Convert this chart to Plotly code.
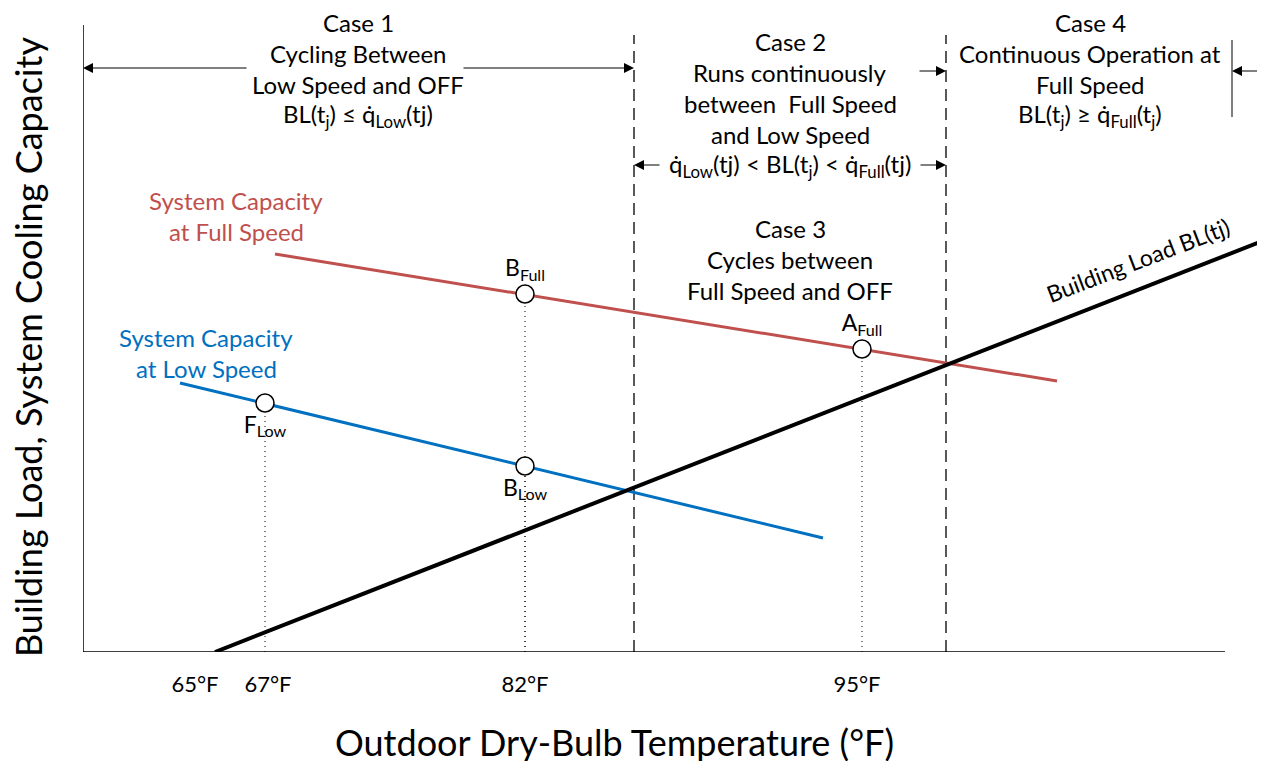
import plotly.graph_objects as go

FONT = "Lato, 'Open Sans', sans-serif"
RED = "#C0504D"
BLUE = "#0070C0"

# schematic axes (no real scale): left axis at x=0, bottom axis at y=0
temp_labels = ["65°F", "67°F", "82°F", "95°F"]
temp_label_pos = [11.2, 18.5, 44.2, 77.4]

full_x = [19.2, 97.4]
full_y = [39.8, 27.1]
low_x = [9.7, 74.0]
low_y = [26.9, 11.4]
load_x = [13.2, 118.2]
load_y = [0.0, 41.2]

point_names = ["B<sub>Full</sub>", "A<sub>Full</sub>", "F<sub>Low</sub>", "B<sub>Low</sub>"]
point_x = [44.2, 77.9, 18.2, 44.2]
point_y = [35.8, 30.3, 24.9, 18.6]
point_textpos = ["top center", "top center", "bottom center", "bottom center"]

case_bounds = [55.1, 86.3]
case_top = 61.7

case1_lines = ["Case 1", "Cycling Between", "Low Speed and OFF",
               "BL(t<sub>j</sub>) ≤ q\u0307<sub>Low</sub>(tj)"]
case2_lines = ["Case 2", "Runs continuously", "between  Full Speed", "and Low Speed",
               "q\u0307<sub>Low</sub>(tj) < BL(t<sub>j</sub>) < q\u0307<sub>Full</sub>(tj)"]
case3_lines = ["Case 3", "Cycles between", "Full Speed and OFF"]
case4_lines = ["Case 4", "Continuous Operation at", "Full Speed",
               "BL(t<sub>j</sub>) ≥ q\u0307<sub>Full</sub>(t<sub>j</sub>)"]

fig = go.Figure()

# dotted drop lines from the rating points
drop_x, drop_y = [], []
for px, py in zip(point_x, point_y):
    drop_x += [px, px, None]
    drop_y += [0, py, None]
fig.add_trace(go.Scatter(x=drop_x, y=drop_y, mode="lines",
                         line=dict(color="black", width=1, dash="1px,4px"),
                         showlegend=False, hoverinfo="skip"))

# case boundaries
for xb in case_bounds:
    fig.add_trace(go.Scatter(x=[xb, xb], y=[0, case_top], mode="lines",
                             line=dict(color="black", width=1.3, dash="12px,7px"),
                             showlegend=False, hoverinfo="skip"))

fig.add_trace(go.Scatter(x=full_x, y=full_y, mode="lines",
                         line=dict(color=RED, width=3), showlegend=False))
fig.add_trace(go.Scatter(x=low_x, y=low_y, mode="lines",
                         line=dict(color=BLUE, width=3), showlegend=False))
fig.add_trace(go.Scatter(x=load_x, y=load_y, mode="lines",
                         line=dict(color="black", width=4), showlegend=False))

fig.add_trace(go.Scatter(
    x=point_x, y=point_y, mode="markers+text",
    text=point_names, textposition=point_textpos,
    textfont=dict(family=FONT, size=23, color="black"),
    marker=dict(size=18, color="white", line=dict(color="black", width=1.5)),
    showlegend=False, cliponaxis=False))

# axis lines
fig.add_shape(type="line", x0=0, x1=0, y0=0, y1=62.7,
              line=dict(color="black", width=1.5))
fig.add_shape(type="line", x0=0, x1=114.2, y0=0, y1=0,
              line=dict(color="black", width=1.5))
# right limit of case 4
fig.add_shape(type="line", x0=114.9, x1=114.9, y0=53.5, y1=61.2,
              line=dict(color="black", width=1))


def text_block(lines, xc, y0, step=3.1, size=24, color="black"):
    for i, t in enumerate(lines):
        fig.add_annotation(x=xc, y=y0 - i * step, text=t, showarrow=False,
                           font=dict(family=FONT, size=size, color=color))


def arrow(tail, head, y):
    fig.add_annotation(x=head, y=y, ax=tail, ay=y, axref="x", ayref="y",
                       text="", showarrow=True, arrowhead=2, arrowsize=2,
                       arrowwidth=1, arrowcolor="black", standoff=0)


text_block(case1_lines, 27.5, 63.0)
text_block(case2_lines, 70.7, 61.1)
text_block(case3_lines, 70.7, 42.4)
text_block(case4_lines, 100.7, 63.0)
text_block(["System Capacity", "at Full Speed"], 15.3, 45.2, color=RED)
text_block(["System Capacity", "at Low Speed"], 12.3, 31.5, color=BLUE)

arrow(16.5, 0, 58.4)
arrow(37.9, case_bounds[0], 58.4)
arrow(83.5, case_bounds[1], 58.1)
arrow(117.6, 114.9, 58.1)
arrow(57.8, case_bounds[0], 48.7)
arrow(83.6, case_bounds[1], 48.7)

fig.add_annotation(x=105.5, y=39.2, text="Building Load BL(tj)", showarrow=False,
                   textangle=-21, font=dict(family=FONT, size=23, color="black"))

fig.add_annotation(xref="paper", yref="paper", x=0.4496, y=-0.1398,
                   xanchor="center", yanchor="middle",
                   text="Outdoor Dry-Bulb Temperature (°F)", showarrow=False,
                   font=dict(family=FONT, size=36, color="black"))
fig.add_annotation(xref="paper", yref="paper", x=-0.0465, y=0.4736,
                   xanchor="center", yanchor="middle",
                   text="Building Load, System Cooling Capacity",
                   showarrow=False, textangle=-90,
                   font=dict(family=FONT, size=36, color="black"))

fig.update_layout(
    width=1257, height=753,
    margin=dict(l=75, r=0, t=0, b=109),
    plot_bgcolor="white", paper_bgcolor="white",
    xaxis=dict(range=[0, 118.2], showgrid=False, zeroline=False, showline=False,
               tickvals=temp_label_pos, ticktext=temp_labels, ticks="",
               ticklabelstandoff=17,
               tickfont=dict(family=FONT, size=22, color="black")),
    yaxis=dict(range=[0, 64.4], showgrid=False, zeroline=False, showline=False,
               showticklabels=False, ticks=""),
)

fig.write_html("out.html")
